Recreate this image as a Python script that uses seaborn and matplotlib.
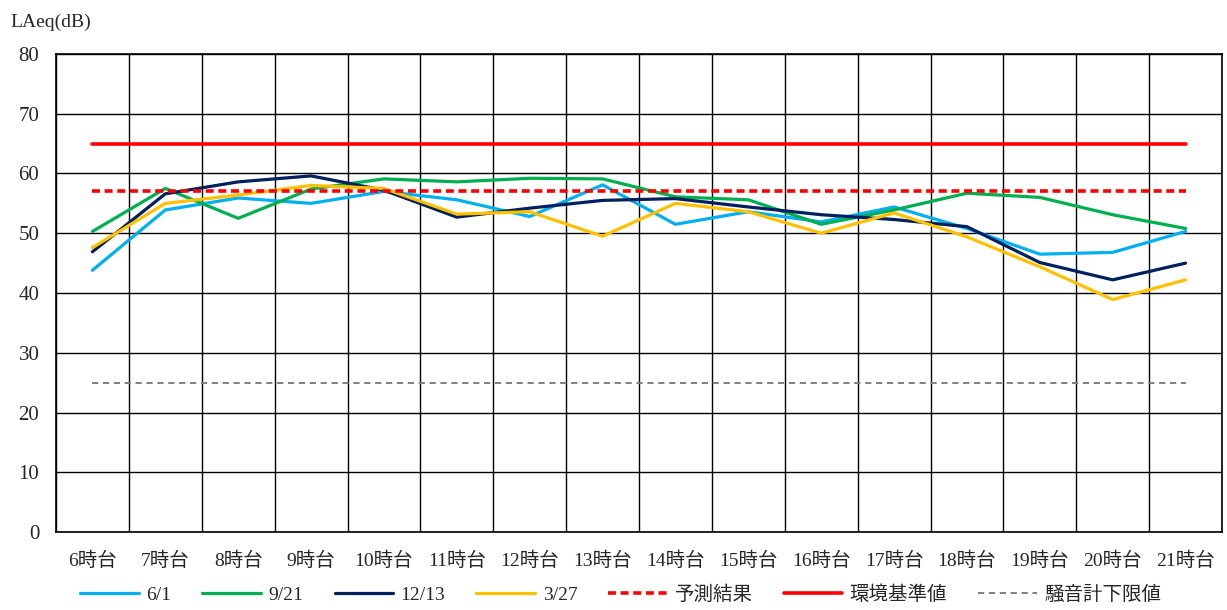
import numpy as np
import pandas as pd
import matplotlib
matplotlib.use("Agg")
import matplotlib.pyplot as plt
import seaborn as sns

hours = ["6時台", "7時台", "8時台", "9時台", "10時台", "11時台", "12時台", "13時台",
         "14時台", "15時台", "16時台", "17時台", "18時台", "19時台", "20時台", "21時台"]
s_0601 = [43.8, 53.9, 55.9, 55.0, 57.0, 55.6, 52.8, 58.1, 51.5, 53.6, 51.9, 54.4, 50.8, 46.5, 46.8, 50.3]
s_0921 = [50.3, 57.5, 52.5, 57.4, 59.1, 58.6, 59.2, 59.1, 56.1, 55.6, 51.5, 53.9, 56.7, 56.0, 53.1, 50.8]
s_1213 = [46.9, 56.6, 58.6, 59.6, 57.2, 52.7, 54.2, 55.5, 55.8, 54.4, 53.1, 52.3, 51.1, 45.1, 42.2, 45.0]
s_0327 = [47.6, 55.0, 56.4, 58.0, 57.5, 53.2, 53.6, 49.5, 55.0, 53.6, 50.0, 53.4, 49.4, 44.4, 38.9, 42.2]
forecast = 57
standard = 65
meter_min = 25
y_ticks = [0, 10, 20, 30, 40, 50, 60, 70, 80]

series = [
    ("6/1", s_0601, "#00B0F0", "-", 2.3),
    ("9/21", s_0921, "#00B050", "-", 2.3),
    ("12/13", s_1213, "#002060", "-", 2.3),
    ("3/27", s_0327, "#FFC000", "-", 2.3),
    ("予測結果", [forecast] * len(hours), "#FF0000", (0, (2.2, 1.3)), 2.6),
    ("環境基準値", [standard] * len(hours), "#FF0000", "-", 2.6),
    ("騒音計下限値", [meter_min] * len(hours), "#808080", (0, (3.2, 2.4)), 1.4),
]

sns.set_theme(style="white")
fam = ["Liberation Serif", "Noto Sans CJK JP", "DejaVu Sans"]
plt.rcParams["font.family"] = fam

fig = plt.figure(figsize=(12.27, 6.10), dpi=100)
ax = fig.add_axes([56 / 1227, 1 - 532 / 610, (1222 - 56) / 1227, (532 - 54) / 610])

for name, vals, color, ls, lw in series:
    df = pd.DataFrame({"hour": hours, "value": vals})
    sns.lineplot(data=df, x="hour", y="value", ax=ax, color=color, linewidth=lw,
                 linestyle=ls, label=name, sort=False, estimator=None)

ax.set_xlim(-0.5, len(hours) - 0.5)
ax.set_ylim(0, 80)
ax.set_yticks(y_ticks)
ax.set_xticks(range(len(hours)))
ax.set_xticklabels(hours)
ax.set_xticks(np.arange(-0.5, len(hours), 1.0), minor=True)
ax.grid(False)
ax.grid(True, axis="y", which="major", color="black", linewidth=1.0)
ax.grid(True, axis="x", which="minor", color="black", linewidth=1.0)
ax.set_axisbelow(True)
for sp in ax.spines.values():
    sp.set_color("black")
    sp.set_linewidth(1.2)
ax.tick_params(axis="both", which="both", length=0)
ax.tick_params(axis="y", labelsize=15, pad=12)
ax.tick_params(axis="x", labelsize=14, pad=14)
ax.set_xlabel("")
ax.set_ylabel("")

fig.text(10 / 1227, 1 - 22 / 610, "LAeq(dB)", fontsize=14, ha="left", va="center")

handles, labels = ax.get_legend_handles_labels()
if ax.legend_:
    ax.legend_.remove()
fig.legend(handles, labels, loc="center", bbox_to_anchor=(0.506, 1 - 595 / 610), ncol=7,
           frameon=False, fontsize=14, handlelength=3.0, columnspacing=1.6, handletextpad=0.4)

fig.savefig("out.png", dpi=100, facecolor="white")
